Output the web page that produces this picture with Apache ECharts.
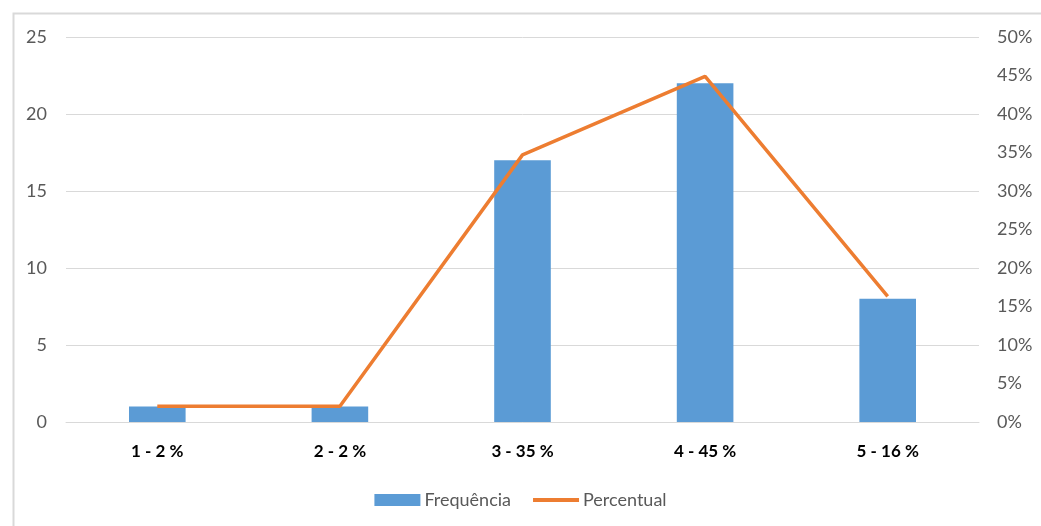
<!DOCTYPE html>
<html>
<head>
<meta charset="utf-8">
<script src="https://cdn.jsdelivr.net/npm/echarts@6/dist/echarts.min.js"></script>
<style>
html,body{margin:0;padding:0;background:#fff;}
#c{width:1041px;height:526px;}
</style>
</head>
<body>
<div id="c"></div>
<script>
const categories = ['1 - 2 %', '2 - 2 %', '3 - 35 %', '4 - 45 %', '5 - 16 %'];
const frequencia = [1, 1, 17, 22, 8];
const percentual = [2.04, 2.04, 34.69, 44.90, 16.33];

const chart = echarts.init(document.getElementById('c'), null, {renderer: 'canvas'});
const font = 'Lato, "Open Sans", sans-serif';
chart.setOption({
  animation: false,
  textStyle: {fontFamily: font},
  graphic: [{
    type: 'rect', left: 11, top: 11, z: -1,
    shape: {width: 1100, height: 600},
    style: {fill: 'none', stroke: '#d9d9d9', lineWidth: 2}
  }],
  grid: {left: 66, right: 62, top: 37, bottom: 104},
  legend: {
    top: 486, left: 'center', itemGap: 22,
    itemWidth: 46, itemHeight: 12,
    textStyle: {color: '#595959', fontSize: 18, fontFamily: font, padding: [0, 0, 0, -1]},
    data: [
      {name: 'Frequência', icon: 'rect'},
      {name: 'Percentual', icon: 'path://M0,0 L46,0 L46,4 L0,4 Z'}
    ]
  },
  xAxis: {
    type: 'category', data: categories,
    axisLine: {lineStyle: {color: '#d9d9d9', width: 1}},
    axisTick: {show: false},
    axisLabel: {color: '#000', fontWeight: 'bold', fontSize: 17, margin: 21, fontFamily: font}
  },
  yAxis: [{
    type: 'value', min: 0, max: 25, interval: 5,
    axisLine: {show: false}, axisTick: {show: false},
    axisLabel: {color: '#595959', fontSize: 18, margin: 19, fontFamily: font},
    splitLine: {lineStyle: {color: '#d9d9d9', width: 1}}
  }, {
    type: 'value', min: 0, max: 50, interval: 5,
    axisLine: {show: false}, axisTick: {show: false},
    axisLabel: {color: '#595959', fontSize: 18, margin: 18, formatter: '{value}%', fontFamily: font},
    splitLine: {show: false}
  }],
  series: [{
    name: 'Frequência', type: 'bar', data: frequencia,
    barWidth: '31%', itemStyle: {color: '#5b9bd5'}
  }, {
    name: 'Percentual', type: 'line', yAxisIndex: 1, data: percentual,
    symbol: 'none', lineStyle: {color: '#ed7d31', width: 3.5},
    itemStyle: {color: '#ed7d31'}
  }]
});
</script>
</body>
</html>
